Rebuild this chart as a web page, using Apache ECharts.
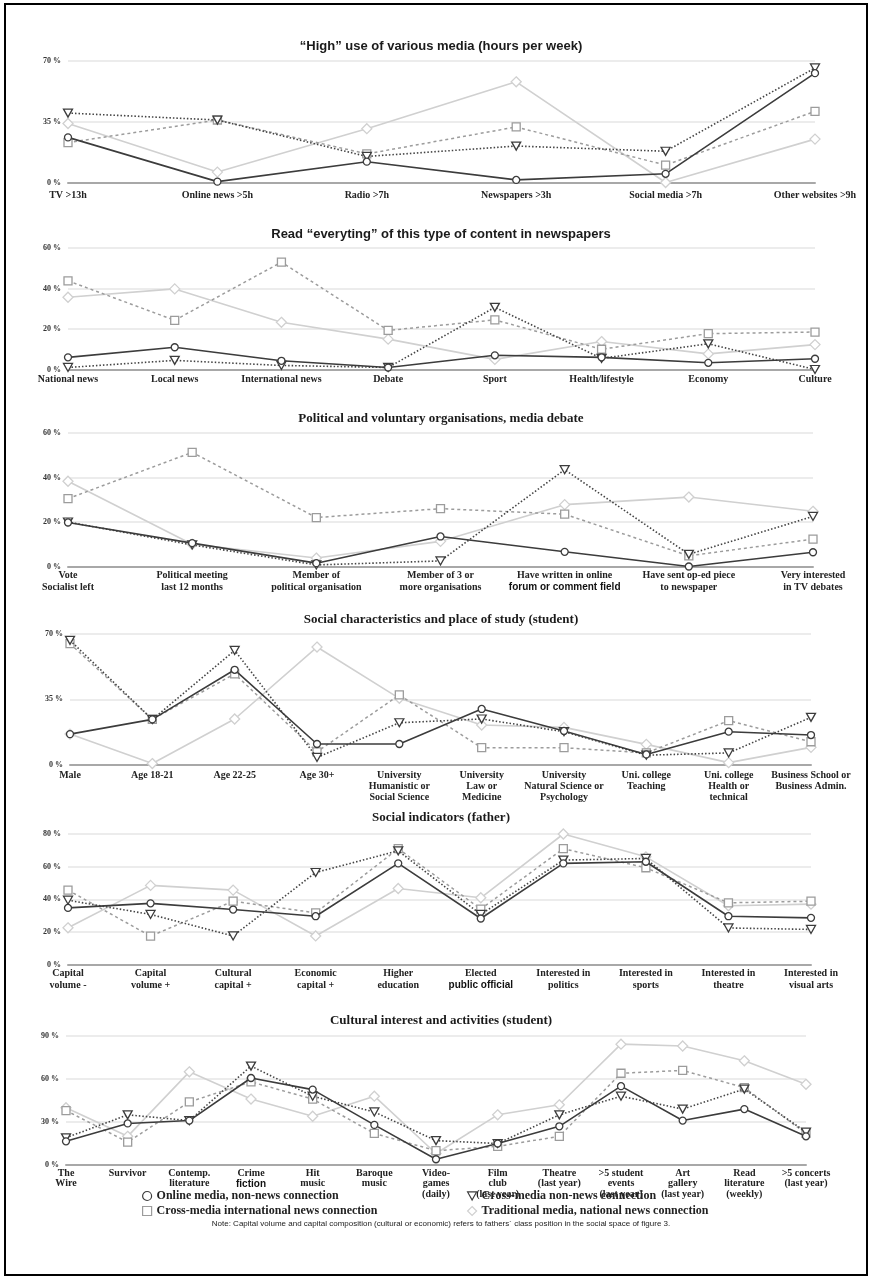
<!DOCTYPE html>
<html>
<head>
<meta charset="utf-8">
<script src="https://cdn.jsdelivr.net/npm/echarts@6/dist/echarts.min.js"></script>
<style>
html,body{margin:0;padding:0;background:#fff;}
#main{width:872px;height:1280px;}
</style>
</head>
<body>
<div id="main"></div>
<script>
// series names (legend)
var seriesNames=['Online media, non-news connection','Cross-media non-news connection','Cross-media international news connection','Traditional media, national news connection'];

// panel 1: "High" use of various media
var cats1=['TV >13h','Online news >5h','Radio >7h','Newspapers >3h','Social media >7h','Other websites >9h'];
var p1Online=[26,0.5,12,1.5,5,63];
var p1Cross=[40,36,15,21,18,66];
var p1Intl=[23,36,16.5,32,10,41];
var p1Trad=[34,6,31,58,0,25];

// panel 2: read everything in newspapers
var cats2=['National news','Local news','International news','Debate','Sport','Health/lifestyle','Economy','Culture'];
var p2Online=[6,11,4.3,1,7,6,3.3,5.3];
var p2Cross=[1,4.5,2,1,30.7,5.5,12.7,0];
var p2Intl=[43.8,24.3,53,19.3,24.5,10,17.7,18.5];
var p2Trad=[35.7,39.8,23.3,15,5,13.8,7.7,12.3];

// panel 3: political and voluntary organisations
var cats3=['Vote\nSocialist left','Political meeting\nlast 12 months','Member of\npolitical organisation','Member of 3 or\nmore organisations','Have written in online\nforum or comment field','Have sent op-ed piece\nto newspaper','Very interested\nin TV debates'];
var p3Online=[19.8,10.5,1.5,13.5,6.6,0,6.4];
var p3Cross=[20,9.7,0.7,2.5,43.5,5.5,22.5];
var p3Intl=[30.5,51.3,22,26,23.5,4.8,12.3];
var p3Trad=[38.3,10,3.8,11.3,27.8,31.2,24.8];

// panel 4: social characteristics and place of study
var cats4=['Male','Age 18-21','Age 22-25','Age 30+','University\nHumanistic or\nSocial Science','University\nLaw or\nMedicine','University\nNatural Science or\nPsychology','Uni. college\nTeaching','Uni. college\nHealth or\ntechnical','Business School or\nBusiness Admin.'];
var p4Online=[16.3,24.2,50.8,11,11,29.8,18,5.4,17.6,15.8];
var p4Cross=[66.6,24.2,61.2,3.8,22.4,24.4,17.6,5,6.2,25.3];
var p4Intl=[64.8,24.2,48.6,6.8,37.3,9,9,6.2,23.5,12.2];
var p4Trad=[16.3,0.5,24.4,63,35.5,21.2,19.9,10.8,1,9.2];

// panel 5: social indicators (father)
var cats5=['Capital\nvolume -','Capital\nvolume +','Cultural\ncapital +','Economic\ncapital +','Higher\neducation','Elected\npublic official','Interested in\npolitics','Interested in\nsports','Interested in\ntheatre','Interested in\nvisual arts'];
var p5Online=[34.7,37.5,33.7,29.6,62,28.2,62,63,29.6,28.6];
var p5Cross=[39.4,30.7,17.5,56.4,69.7,30.7,64,65,22.4,21.5];
var p5Intl=[45.6,17.4,38.8,31.7,71,34,71,59.3,37.8,38.8];
var p5Trad=[22.5,48.5,45.6,17.5,46.6,40.9,80,66,36,37];

// panel 6: cultural interest and activities
var cats6=['The\nWire','Survivor','Contemp.\nliterature','Crime\nfiction','Hit\nmusic','Baroque\nmusic','Video-\ngames\n(daily)','Film\nclub\n(last year)','Theatre\n(last year)','>5 student\nevents\n(last year)','Art\ngallery\n(last year)','Read\nliterature\n(weekly)','>5 concerts\n(last year)'];
var p6Online=[16.5,29,31,60.7,52.6,28,4,15,27,55,31,39,20];
var p6Cross=[19,35,31,69,48,37,17,15,35,48,39,53,23];
var p6Intl=[38,16,44,58,46,22,10,13,20,64,66,54,22];
var p6Trad=[40,20,65,46,34,48,8,35,42,84.3,83,72.7,56.3];

var panels=[
  {title:'\u201cHigh\u201d use of various media (hours per week)',sans:true,ty:43,cats:cats1,data:[p1Online,p1Cross,p1Intl,p1Trad],max:70,step:35,grid:{left:68,right:57,top:61,height:121.5},margin:7,lh:12},
  {title:'Read \u201ceveryting\u201d of this type of content in newspapers',sans:true,ty:231,cats:cats2,data:[p2Online,p2Cross,p2Intl,p2Trad],max:60,step:20,grid:{left:68,right:57,top:248,height:121.5},margin:4,lh:12},
  {title:'Political and voluntary organisations, media debate',sans:false,ty:415,cats:cats3,data:[p3Online,p3Cross,p3Intl,p3Trad],max:60,step:20,grid:{left:68,right:59,top:433,height:133.5},margin:3,lh:12},
  {title:'Social characteristics and place of study (student)',sans:false,ty:616,cats:cats4,data:[p4Online,p4Cross,p4Intl,p4Trad],max:70,step:35,grid:{left:70,right:61,top:634,height:130.5},margin:5,lh:11},
  {title:'Social indicators (father)',sans:false,ty:814,cats:cats5,data:[p5Online,p5Cross,p5Intl,p5Trad],max:80,step:20,grid:{left:68,right:61,top:834,height:130.5},margin:3,lh:12},
  {title:'Cultural interest and activities (student)',sans:false,ty:1017,cats:cats6,data:[p6Online,p6Cross,p6Intl,p6Trad],max:90,step:30,grid:{left:66,right:66,top:1036,height:129},margin:3,lh:10.5}
];

var triDown='path://M0,0L10,0L5,9Z';
var looks=[
  {symbol:'circle',size:7,line:{color:'#3c3c3c',width:1.6,type:'solid'},border:'#3c3c3c',z:5},
  {symbol:triDown,size:[9,8],line:{color:'#444',width:1.6,type:[1.5,2]},border:'#3c3c3c',z:4},
  {symbol:'rect',size:8,line:{color:'#9c9c9c',width:1.5,type:[3,3]},border:'#9c9c9c',z:3},
  {symbol:'diamond',size:10,line:{color:'#d0d0d0',width:1.6,type:'solid'},border:'#d0d0d0',z:2}
];

var serif='"Liberation Serif","Times New Roman",serif';
var sans='"Liberation Sans",Arial,sans-serif';
var sansBits=['forum or comment field','public official','fiction'];

function catLabel(v){
  sansBits.forEach(function(s){ v=v.replace(s,'{s|'+s+'}'); });
  return v;
}

var titles=[],grids=[],xAxes=[],yAxes=[],series=[];
panels.forEach(function(p,i){
  titles.push({text:p.title,left:436,top:p.ty-8,textAlign:'center',
    textStyle:{fontFamily:p.sans?sans:serif,fontWeight:'bold',fontSize:13,color:'#1a1a1a'}});
  grids.push(p.grid);
  xAxes.push({type:'category',gridIndex:i,data:p.cats,boundaryGap:false,
    axisLine:{lineStyle:{color:'#a8a8a8',width:2}},axisTick:{show:false},
    axisLabel:{interval:0,margin:p.margin,formatter:catLabel,fontFamily:serif,fontWeight:'bold',fontSize:10,color:'#222',lineHeight:p.lh,
      rich:{s:{fontFamily:sans,fontWeight:'bold',fontSize:10,color:'#111',lineHeight:p.lh}}}});
  yAxes.push({type:'value',gridIndex:i,min:0,max:p.max,interval:p.step,
    axisLine:{show:false},axisTick:{show:false},
    splitLine:{lineStyle:{color:'#e6e6e6',width:1.5}},
    axisLabel:{formatter:'{value} %',fontFamily:serif,fontWeight:'bold',fontSize:8,color:'#333',margin:7}});
  p.data.forEach(function(d,k){
    var lk=looks[k];
    series.push({type:'line',name:seriesNames[k],xAxisIndex:i,yAxisIndex:i,data:d,
      symbol:lk.symbol,symbolSize:lk.size,showAllSymbol:true,z:lk.z,animation:false,
      lineStyle:lk.line,itemStyle:{color:'#fff',borderColor:lk.border,borderWidth:1.3},
      emphasis:{disabled:true}});
  });
});

var legIcons=['circle',triDown,'rect','diamond'];
var legPos=[[137,1185],[462,1185],[137,1200],[462,1200]];
var legends=seriesNames.map(function(n,k){
  return {left:legPos[k][0],top:legPos[k][1],itemWidth:9,itemHeight:9,itemGap:5,selectedMode:false,
    data:[{name:n,icon:legIcons[k],itemStyle:{color:'#fff',borderColor:looks[k].border,borderWidth:1.2}}],
    textStyle:{fontFamily:serif,fontWeight:'bold',fontSize:12,color:'#222'}};
});

titles.push({text:'Note: Capital volume and capital composition (cultural or economic) refers to fathers\u00b4 class position in the social space of figure 3.',
  left:436,top:1215,textAlign:'center',textStyle:{fontFamily:sans,fontWeight:'normal',fontSize:8,color:'#222'}});

var myChart=echarts.init(document.getElementById('main'));
myChart.setOption({
  backgroundColor:'#fff',
  animation:false,
  title:titles,
  legend:legends,
  grid:grids,
  xAxis:xAxes,
  yAxis:yAxes,
  series:series,
  graphic:[{type:'rect',shape:{x:5,y:4,width:862,height:1271},style:{fill:null,stroke:'#000',lineWidth:2},silent:true}]
});
</script>
</body>
</html>
